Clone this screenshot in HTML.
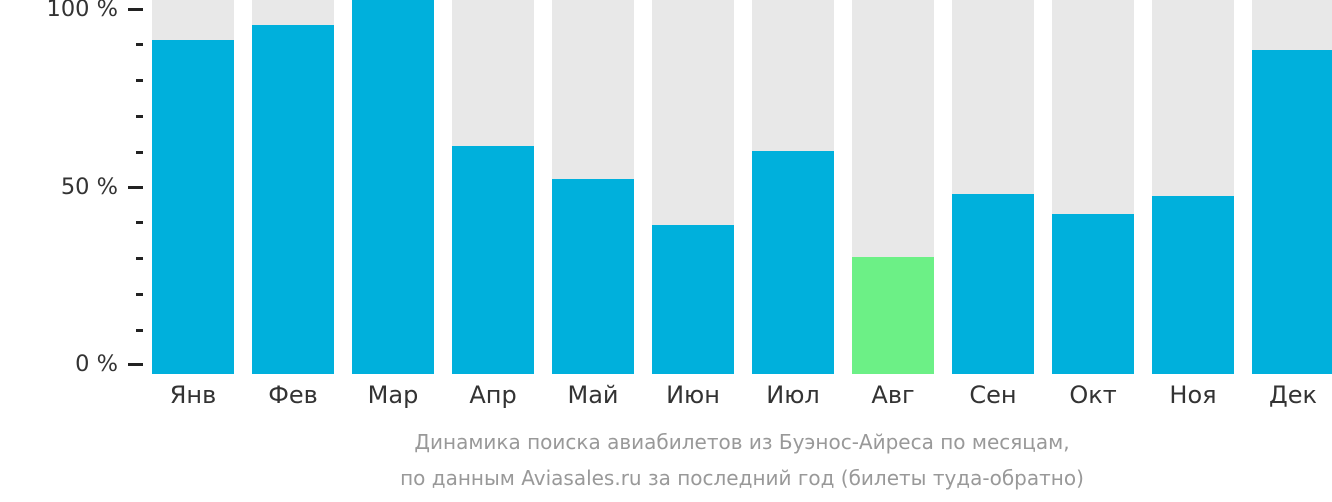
<!DOCTYPE html>
<html><head><meta charset="utf-8"><style>
body{margin:0;width:1332px;height:502px;background:#fff;overflow:hidden;font-family:"DejaVu Sans","Liberation Sans",sans-serif;position:relative}
.t{position:absolute;background:#222;height:3px}
.yl{position:absolute;right:1214px;font-size:22.5px;color:#333;line-height:1}
.b{position:absolute;width:82px;top:0;height:374px;background:#e8e8e8}
.f{position:absolute;left:0;width:82px;bottom:0;background:#00b0dc}
.m{position:absolute;top:381px;width:100px;text-align:center;font-size:24px;color:#333}
.c{position:absolute;text-align:center;font-size:20px;color:#999;left:-514px;width:2512px}
</style></head><body>
<div class="yl" style="top:-2px">100 %</div>
<div class="yl" style="top:176px">50 %</div>
<div class="yl" style="top:353px">0 %</div>
<div class="t" style="left:128px;width:15px;top:8px"></div>
<div class="t" style="left:128px;width:15px;top:186px"></div>
<div class="t" style="left:128px;width:15px;top:363px"></div>
<div class="t" style="left:136px;width:7px;top:43px"></div>
<div class="t" style="left:136px;width:7px;top:79px"></div>
<div class="t" style="left:136px;width:7px;top:115px"></div>
<div class="t" style="left:136px;width:7px;top:151px"></div>
<div class="t" style="left:136px;width:7px;top:221px"></div>
<div class="t" style="left:136px;width:7px;top:257px"></div>
<div class="t" style="left:136px;width:7px;top:293px"></div>
<div class="t" style="left:136px;width:7px;top:329px"></div>
<div class="b" style="left:152px"><div class="f" style="top:40px"></div></div>
<div class="b" style="left:252px"><div class="f" style="top:25px"></div></div>
<div class="b" style="left:352px"><div class="f" style="top:0px"></div></div>
<div class="b" style="left:452px"><div class="f" style="top:146px"></div></div>
<div class="b" style="left:552px"><div class="f" style="top:179px"></div></div>
<div class="b" style="left:652px"><div class="f" style="top:225px"></div></div>
<div class="b" style="left:752px"><div class="f" style="top:151px"></div></div>
<div class="b" style="left:852px"><div class="f" style="top:257px;background:#6cf086"></div></div>
<div class="b" style="left:952px"><div class="f" style="top:194px"></div></div>
<div class="b" style="left:1052px"><div class="f" style="top:214px"></div></div>
<div class="b" style="left:1152px"><div class="f" style="top:196px"></div></div>
<div class="b" style="left:1252px"><div class="f" style="top:50px"></div></div>
<div class="m" style="left:143px">Янв</div>
<div class="m" style="left:243px">Фев</div>
<div class="m" style="left:343px">Мар</div>
<div class="m" style="left:443px">Апр</div>
<div class="m" style="left:543px">Май</div>
<div class="m" style="left:643px">Июн</div>
<div class="m" style="left:743px">Июл</div>
<div class="m" style="left:843px">Авг</div>
<div class="m" style="left:943px">Сен</div>
<div class="m" style="left:1043px">Окт</div>
<div class="m" style="left:1143px">Ноя</div>
<div class="m" style="left:1243px">Дек</div>
<div class="c" style="top:430px">Динамика поиска авиабилетов из Буэнос-Айреса по месяцам,</div>
<div class="c" style="top:466px">по данным Aviasales.ru за последний год (билеты туда-обратно)</div>
</body></html>
